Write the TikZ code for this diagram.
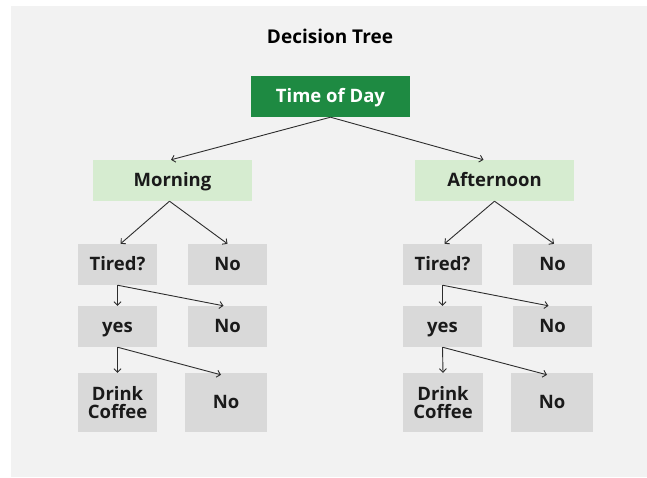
\documentclass[tikz,border=0pt]{standalone}
\usepackage{fontspec}
\setmainfont{Open Sans}
\usepackage{tikz}
\usetikzlibrary{arrows.meta}

\begin{document}
\begin{tikzpicture}[x=1pt, y=-1pt, font=\bfseries\fontsize{18.5}{18.5}\selectfont]

% =========================
% Color Definitions
% =========================
\definecolor{bgpanel}{RGB}{242,242,242}
\definecolor{rootfill}{RGB}{30,138,66}
\definecolor{branchfill}{RGB}{214,236,208}
\definecolor{leaffill}{RGB}{217,217,217}
\definecolor{textcol}{RGB}{26,26,26}
\definecolor{linkcol}{RGB}{45,45,45}

% =========================
% Box Styles
% =========================
\tikzset{
    oneline/.style={
        text height=13pt,
        text depth=2pt
    },
    rootbox/.style={
        oneline,
        fill=rootfill,
        text=white,
        minimum width=159pt,
        minimum height=41pt,
        inner sep=0pt
    },
    branchbox/.style={
        oneline,
        fill=branchfill,
        text=textcol,
        minimum width=159pt,
        minimum height=41pt,
        inner sep=0pt
    },
    leafbox/.style={
        fill=leaffill,
        text=textcol,
        minimum width=79pt,
        minimum height=41pt,
        inner sep=0pt,
        align=center
    },
    link/.style={
        draw=linkcol,
        line width=0.9pt,
        -{Straight Barb[length=3.5pt,width=7pt]}
    }
}

% =========================
% Canvas & Background
% =========================
\useasboundingbox (0,0) rectangle (647,477);
\fill[bgpanel] (11,6) rectangle (647,477);

% =========================
% Title & Top Levels
% =========================
\node[text=black, font=\bfseries\fontsize{19}{19}\selectfont] (title) at (330,36) {Decision Tree};

\node[rootbox] (root) at (330.5,96.5) {Time of Day};

\node[branchbox] (morning) at (172.5,180.5) {Morning};
\node[branchbox] (afternoon) at (494.5,180.5) {Afternoon};

% =========================
% Morning Branch
% =========================
\node[leafbox, oneline] (tiredL) at (117.5,264.5) {Tired?};
\node[leafbox, oneline] (noL1) at (227.5,264.5) {No};
\node[leafbox, oneline] (yesL) at (117.5,326.5) {yes};
\node[leafbox, oneline] (noL2) at (227.5,326.5) {No};
\node[leafbox, minimum height=59pt] (coffeeL) at (117.5,402.5) {Drink\\Coffee};
\node[leafbox, oneline, minimum height=59pt, minimum width=82pt] (noL3) at (226,402.5) {No};

% =========================
% Afternoon Branch
% =========================
\node[leafbox, oneline] (tiredR) at (442.5,264.5) {Tired?};
\node[leafbox, oneline] (noR1) at (552.5,264.5) {No};
\node[leafbox, oneline] (yesR) at (442.5,326.5) {yes};
\node[leafbox, oneline] (noR2) at (552.5,326.5) {No};
\node[leafbox, minimum height=59pt, minimum width=80pt] (coffeeR) at (443,402.5) {Drink\\Coffee};
\node[leafbox, oneline, minimum height=59pt, minimum width=82pt] (noR3) at (552,402.5) {No};

% =========================
% Connectors
% =========================
\draw[link] (root.south) -- ([xshift=-1.5pt]morning.north);
\draw[link] (root.south) -- ([xshift=-11pt]afternoon.north);

\draw[link] ([xshift=-3pt]morning.south) -- ([xshift=3pt]tiredL.north);
\draw[link] ([xshift=-3pt]morning.south) -- (noL1.north);
\draw[link] (afternoon.south) -- ([xshift=2pt]tiredR.north);
\draw[link] (afternoon.south) -- ([xshift=1.5pt]noR1.north);

\draw[link] (tiredL.south) -- (yesL.north);
\draw[link] (tiredL.south) -- ([xshift=-4pt]noL2.north);
\draw[link] (yesL.south) -- (coffeeL.north);
\draw[link] (yesL.south) -- ([xshift=-5pt,yshift=-2pt]noL3.north);

\draw[link] (tiredR.south) -- (yesR.north);
\draw[link] (tiredR.south) -- ([xshift=-4pt]noR2.north);
\draw[link] (yesR.south) -- (coffeeR.north);
\draw[link] (yesR.south) -- ([xshift=-5pt,yshift=-2pt]noR3.north);

\end{tikzpicture}
\end{document}
